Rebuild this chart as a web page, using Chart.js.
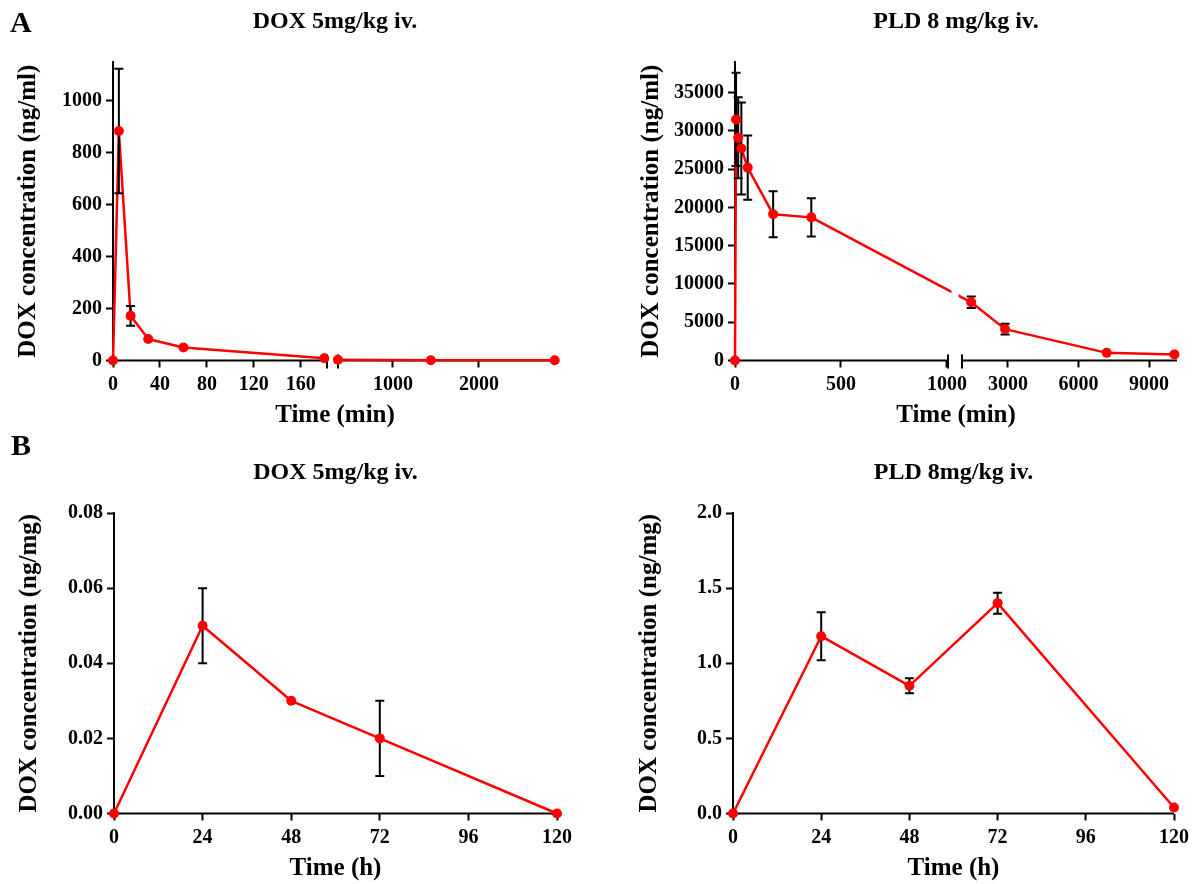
<!DOCTYPE html>
<html>
<head>
<meta charset="utf-8">
<script src="https://cdn.jsdelivr.net/npm/chart.js@4.4.1/dist/chart.umd.min.js"></script>
<style>
  body { margin: 0; background: #fff; }
  #wrap { position: relative; width: 1203px; height: 884px; }
  canvas { position: absolute; }
  .tag { position: absolute; font: bold 30px 'Liberation Serif', serif; line-height: 30px; color: #000; }
</style>
</head>
<body>
<div id="wrap">
  <canvas id="c1" width="600" height="440" style="left:0; top:0"></canvas>
  <canvas id="c2" width="603" height="440" style="left:600px; top:0"></canvas>
  <canvas id="c3" width="600" height="454" style="left:0; top:430px"></canvas>
  <canvas id="c4" width="603" height="454" style="left:600px; top:430px"></canvas>
  <div class="tag" style="left:10px; top:7px;">A</div>
  <div class="tag" style="left:11px; top:430px;">B</div>
</div>
<script>
// plasma, DOX 5 mg/kg (min)
const doxTime = [0, 5, 15, 30, 60, 180, 360, 1440, 2880];
const doxPlasma = [0, 884, 172, 83, 50, 9, 3, 1, 1];
const doxPlasmaSd = [0, 240, 38, 0, 0, 0, 0, 0, 0];

// plasma, PLD 8 mg/kg (min)
const pldTime = [0, 5, 15, 30, 60, 180, 360, 1440, 2880, 7200, 10080];
const pldPlasma = [0, 31500, 29100, 27700, 25200, 19100, 18700, 7600, 4100, 1000, 800];
const pldPlasmaSd = [0, 6100, 5300, 6000, 4200, 3000, 2500, 750, 700, 0, 0];

// tissue (h)
const tissueTime = [0, 24, 48, 72, 120];
const doxTissue = [0, 0.05, 0.03, 0.02, 0];
const doxTissueSd = [0, 0.01, 0, 0.01, 0];
const pldTissue = [0, 1.18, 0.85, 1.40, 0.04];
const pldTissueSd = [0, 0.16, 0.05, 0.07, 0];

// tick labels
const doxPlasmaYTicks = [0, 200, 400, 600, 800, 1000];
const doxXTicksA = [0, 40, 80, 120, 160];
const doxXTicksB = [1000, 2000];
const pldPlasmaYTicks = [0, 5000, 10000, 15000, 20000, 25000, 30000, 35000];
const pldXTicksA = [0, 500, 1000];
const pldXTicksB = [3000, 6000, 9000];
const hourTicks = [0, 24, 48, 72, 96, 120];
const doxTissueYTicks = [0, 0.02, 0.04, 0.06, 0.08];
const pldTissueYTicks = [0, 0.5, 1.0, 1.5, 2.0];

const RED = '#ff0000';
const FONT = "'Liberation Serif', 'DejaVu Serif', serif";

function segOf(p, t) {
    return p.segs.findIndex(s => t >= s.min && t <= s.max);
}

function drawErr(chart, p) {
    const ctx = chart.ctx, ys = chart.scales.y;
    ctx.save();
    ctx.strokeStyle = '#000';
    ctx.lineWidth = 2;
    p.x.forEach((t, i) => {
        const sd = p.sd[i];
        if (!sd) return;
        const px = chart.scales['x' + segOf(p, t)].getPixelForValue(t);
        const top = ys.getPixelForValue(p.y[i] + sd);
        const bot = ys.getPixelForValue(p.y[i] - sd);
        ctx.beginPath();
        ctx.moveTo(px, top); ctx.lineTo(px, bot);
        ctx.moveTo(px - 4.5, top); ctx.lineTo(px + 4.5, top);
        ctx.moveTo(px - 4.5, bot); ctx.lineTo(px + 4.5, bot);
        ctx.stroke();
    });
    ctx.restore();
}

// line across an axis break, with a small gap at the break
function drawBridges(chart, p) {
    const ctx = chart.ctx, ys = chart.scales.y;
    for (let k = 0; k < p.segs.length - 1; k++) {
        const a = chart.scales['x' + k], b = chart.scales['x' + (k + 1)];
        let ia = -1, ib = -1;
        p.x.forEach((t, i) => {
            const s = segOf(p, t);
            if (s === k) ia = i;
            if (s === k + 1 && ib < 0) ib = i;
        });
        if (ia < 0 || ib < 0) continue;
        const split = a.right;
        ctx.save();
        ctx.beginPath();
        ctx.rect(0, 0, split - 3.5, chart.height);
        ctx.rect(split + 3.5, 0, chart.width, chart.height);
        ctx.clip();
        ctx.strokeStyle = RED;
        ctx.lineWidth = 2.5;
        ctx.beginPath();
        ctx.moveTo(a.getPixelForValue(p.x[ia]), ys.getPixelForValue(p.y[ia]));
        ctx.lineTo(b.getPixelForValue(p.x[ib]), ys.getPixelForValue(p.y[ib]));
        ctx.stroke();
        ctx.restore();
    }
}

function brokenAxis(p) {
    return {
        id: 'brokenAxis',
        beforeDatasetsDraw(chart) {
            const ctx = chart.ctx;
            const y0 = chart.chartArea.bottom;
            const n = p.segs.length;
            ctx.save();
            ctx.strokeStyle = '#000';
            ctx.lineWidth = 2;
            p.segs.forEach((s, k) => {
                const sc = chart.scales['x' + k];
                const l = k === 0 ? sc.left - 1 : sc.left + p.inset;
                const r = k === n - 1 ? sc.right : sc.right - p.inset;
                ctx.beginPath();
                ctx.moveTo(l, y0); ctx.lineTo(r, y0);
                if (k > 0) { ctx.moveTo(l, y0 - 6); ctx.lineTo(l, y0 + 8); }
                if (k < n - 1) { ctx.moveTo(r, y0 - 6); ctx.lineTo(r, y0 + 8); }
                ctx.stroke();
            });
            ctx.restore();
            chart.$errDone = false;
        },
        beforeDatasetDraw(chart, args) {
            const ds = chart.data.datasets[args.index];
            if (ds.dots && !chart.$errDone) {
                drawBridges(chart, p);
                drawErr(chart, p);
                chart.$errDone = true;
            }
        }
    };
}

function makePanel(id, p) {
    const tickFont = {family: FONT, size: 20, weight: 'bold'};
    const axisGrid = {display: true, drawOnChartArea: false, drawTicks: true,
        tickLength: 7, tickWidth: 2, tickColor: '#000'};
    const scales = {
        y: {
            type: 'linear', position: 'left', min: p.yMin, max: p.yMax,
            afterBuildTicks: s => { s.ticks = p.yTicks.map(v => ({value: v})); },
            afterFit: s => { s.width = p.yWidth; },
            border: {display: true, color: '#000', width: 2},
            grid: axisGrid,
            ticks: {color: '#000', font: tickFont, padding: 4, callback: p.yFmt},
            title: {display: true, text: p.yTitle, color: '#000',
                font: {family: FONT, size: 25, weight: 'bold'},
                padding: {top: p.yTitlePad, bottom: 0}}
        }
    };
    const datasets = [];
    const lines = [];
    p.segs.forEach((s, k) => {
        scales['x' + k] = {
            type: 'linear', position: 'bottom', stack: 'time', stackWeight: s.weight,
            min: s.min, max: s.max,
            afterBuildTicks: sc => { sc.ticks = s.ticks.map(v => ({value: v})); },
            afterFit: sc => { sc.height = 36; },
            border: {display: false},
            grid: axisGrid,
            ticks: {color: '#000', font: tickFont, padding: 5, maxRotation: 0,
                autoSkip: false, callback: v => String(v)}
        };
        const pts = p.x.map((t, i) => ({x: t, y: p.y[i]}))
            .filter(d => d.x >= s.min && d.x <= s.max);
        datasets.push({
            data: pts, xAxisID: 'x' + k, yAxisID: 'y', dots: true,
            showLine: false, pointRadius: 5, pointBackgroundColor: RED,
            pointBorderColor: RED, pointBorderWidth: 0, clip: false
        });
        lines.push({
            data: pts, xAxisID: 'x' + k, yAxisID: 'y', dots: false,
            borderColor: RED, borderWidth: 2.5, pointRadius: 0, clip: false,
            borderJoinStyle: 'round'
        });
    });

    return new Chart(document.getElementById(id), {
        type: 'line',
        data: {datasets: datasets.concat(lines)},
        options: {
            responsive: false,
            animation: false,
            events: [],
            devicePixelRatio: 1,
            layout: {padding: {left: 0, right: p.padRight, top: 0, bottom: p.padBottom}},
            scales: scales,
            plugins: {
                legend: {display: false},
                tooltip: {enabled: false},
                title: {display: true, text: p.title, color: '#000', fullSize: false,
                    font: {family: FONT, size: 24, weight: 'bold'},
                    padding: {top: p.tPadTop, bottom: p.tPadBottom}},
                subtitle: {display: true, text: p.xTitle, position: 'bottom', fullSize: false,
                    color: '#000', font: {family: FONT, size: 25, weight: 'bold'},
                    padding: {top: 4.5, bottom: 0}}
            }
        },
        plugins: [brokenAxis(p)]
    });
}

makePanel('c1', {
    title: 'DOX 5mg/kg iv.', yTitle: 'DOX concentration (ng/ml)', xTitle: 'Time (min)',
    x: doxTime, y: doxPlasma, sd: doxPlasmaSd,
    yMin: 0, yMax: 1150, yTicks: doxPlasmaYTicks, yFmt: v => String(v),
    segs: [{min: 0, max: 187, weight: 219.5, ticks: doxXTicksA},
           {min: 297, max: 2907, weight: 224.5, ticks: doxXTicksB}],
    inset: 5.5, yWidth: 113, yTitlePad: 14, padRight: 43, padBottom: 9,
    tPadTop: 7.6, tPadBottom: 25.6
});

makePanel('c2', {
    title: 'PLD 8 mg/kg iv.', yTitle: 'DOX concentration (ng/ml)', xTitle: 'Time (min)',
    x: pldTime, y: pldPlasma, sd: pldPlasmaSd,
    yMin: 0, yMax: 39000, yTicks: pldPlasmaYTicks, yFmt: v => String(v),
    segs: [{min: 0, max: 1038, weight: 220, ticks: pldXTicksA},
           {min: 751, max: 10188, weight: 222, ticks: pldXTicksB}],
    inset: 7, yWidth: 135, yTitlePad: 37, padRight: 26, padBottom: 9,
    tPadTop: 7.6, tPadBottom: 25.6
});

makePanel('c3', {
    title: 'DOX 5mg/kg iv.', yTitle: 'DOX concentration (ng/mg)', xTitle: 'Time (h)',
    x: tissueTime, y: doxTissue, sd: doxTissueSd,
    yMin: 0, yMax: 0.08, yTicks: doxTissueYTicks, yFmt: v => v.toFixed(2),
    segs: [{min: 0, max: 120, weight: 1, ticks: hourTicks}],
    inset: 0, yWidth: 114, yTitlePad: 15, padRight: 43, padBottom: 0,
    tPadTop: 28.6, tPadBottom: 25.6
});

makePanel('c4', {
    title: 'PLD 8mg/kg iv.', yTitle: 'DOX concentration (ng/mg)', xTitle: 'Time (h)',
    x: tissueTime, y: pldTissue, sd: pldTissueSd,
    yMin: 0, yMax: 2, yTicks: pldTissueYTicks, yFmt: v => v.toFixed(1),
    segs: [{min: 0, max: 120, weight: 1, ticks: hourTicks}],
    inset: 0, yWidth: 133, yTitlePad: 35, padRight: 29, padBottom: 0,
    tPadTop: 28.6, tPadBottom: 25.6
});
</script>
</body>
</html>
